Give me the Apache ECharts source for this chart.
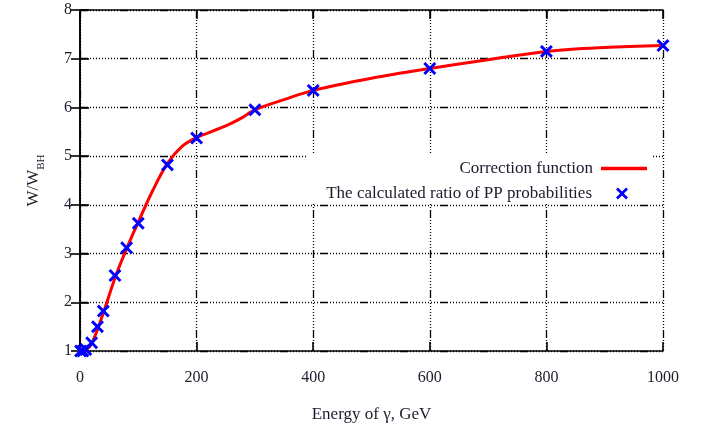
<!DOCTYPE html>
<html>
<head>
<meta charset="utf-8">
<script src="https://cdn.jsdelivr.net/npm/echarts@6/dist/echarts.min.js"></script>
<style>
  html, body { margin: 0; padding: 0; background: #fff; }
  #chart { width: 702px; height: 428px; }
</style>
</head>
<body>
<div id="chart"></div>
<script>
// Photon energies (GeV) where the PP probability ratio was calculated
const energy = [1, 5, 10, 20, 30, 40, 60, 80, 100, 150, 200, 300, 400, 600, 800, 1000];
// Calculated ratio W/W_BH at those energies
const ratio = [1.0, 1.0, 1.03, 1.17, 1.5, 1.82, 2.55, 3.12, 3.62, 4.82, 5.37, 5.95, 6.35, 6.8, 7.15, 7.27];

// Correction function sampled along the energy range
const fitEnergy = [0, 10, 20, 40, 60, 80, 100, 125, 150, 175, 200, 250, 275, 300, 350, 400, 500, 600, 700, 800, 900, 1000];
const fitRatio = [1.0, 1.02, 1.15, 1.78, 2.5, 3.1, 3.65, 4.3, 4.85, 5.2, 5.38, 5.62, 5.77, 5.95, 6.16, 6.35, 6.6, 6.8, 6.98, 7.15, 7.23, 7.27];

const xTicks = { min: 0, max: 1000, step: 200 };
const yTicks = { min: 1, max: 8, step: 1 };

const seriesNames = ['Correction function', 'The calculated ratio of PP probabilities'];

const serif = '"Liberation Serif", "DejaVu Serif", serif';
const textColor = '#1c1c2c';
const crossPath = 'path://M0,1.6 L1.6,0 L5,3.4 L8.4,0 L10,1.6 L6.6,5 L10,8.4 L8.4,10 L5,6.6 L1.6,10 L0,8.4 L3.4,5 Z';

const gridDash = [8, 2, 1, 2, 1, 2, 1, 2, 1, 2, 1, 2, 1, 2, 1, 2, 1, 2, 1, 2, 1, 2];

const chart = echarts.init(document.getElementById('chart'), null, { renderer: 'canvas' });

const frameAxis = (extra) => Object.assign({
  type: 'value',
  axisLine: { show: true, lineStyle: { color: '#000', width: 1.6 } },
  axisTick: { show: true, inside: true, length: 9, lineStyle: { color: '#000', width: 1.6 } },
  splitLine: { show: false }
}, extra);

const plainNumber = (v) => String(v);

chart.setOption({
  animation: false,
  backgroundColor: '#fff',
  grid: { left: 80, right: 39, top: 10, bottom: 77 },
  xAxis: [
    frameAxis({
      position: 'bottom',
      min: xTicks.min, max: xTicks.max, interval: xTicks.step,
      name: 'Energy of \u03b3, GeV',
      nameLocation: 'middle',
      nameGap: 55,
      nameTextStyle: { fontFamily: serif, fontSize: 17, color: textColor },
      axisLabel: { margin: 19, fontFamily: serif, fontSize: 16, color: textColor, formatter: plainNumber },
      splitLine: { show: true, lineStyle: { color: '#000', width: 1.3, type: gridDash } }
    }),
    frameAxis({
      position: 'top',
      min: xTicks.min, max: xTicks.max, interval: xTicks.step,
      axisLabel: { show: false }
    })
  ],
  yAxis: [
    frameAxis({
      position: 'left',
      min: yTicks.min, max: yTicks.max, interval: yTicks.step,
      name: '{a|W/W}{b|BH}',
      nameLocation: 'middle',
      nameGap: 33,
      nameRotate: 90,
      nameTextStyle: {
        fontFamily: serif, color: textColor,
        rich: {
          a: { fontFamily: serif, fontSize: 17, color: textColor, verticalAlign: 'top', lineHeight: 17 },
          b: { fontFamily: serif, fontSize: 11, color: textColor, verticalAlign: 'bottom', lineHeight: 22 }
        }
      },
      axisLabel: { margin: 8, fontFamily: serif, fontSize: 16, color: textColor, formatter: plainNumber },
      splitLine: { show: true, lineStyle: { color: '#000', width: 1.3, type: gridDash } }
    }),
    frameAxis({
      position: 'right',
      min: yTicks.min, max: yTicks.max, interval: yTicks.step,
      axisLabel: { show: false }
    })
  ],
  // opaque key box clearing the grid behind the legend
  graphic: [{
    type: 'rect',
    z: 1,
    shape: { x: 308, y: 154, width: 345, height: 49 },
    style: { fill: '#fff' },
    silent: true
  }],
  legend: [
    {
      data: [{ name: seriesNames[0], icon: 'rect' }],
      right: 55, top: 160,
      align: 'right',
      itemWidth: 46, itemHeight: 3.5, itemGap: 0,
      padding: 0,
      textStyle: { fontFamily: serif, fontSize: 17, color: textColor, padding: [0, 3, 0, 0] }
    },
    {
      data: [{ name: seriesNames[1], icon: crossPath }],
      right: 74, top: 185,
      align: 'right',
      itemWidth: 12, itemHeight: 12, itemGap: 0,
      padding: 0,
      textStyle: { fontFamily: serif, fontSize: 17, color: textColor, padding: [0, 19, 0, 0] }
    }
  ],
  series: [
    {
      name: seriesNames[0],
      type: 'line',
      data: fitEnergy.map((e, i) => [e, fitRatio[i]]),
      smooth: 0.35,
      showSymbol: false,
      clip: true,
      z: 2,
      lineStyle: { color: '#ff0000', width: 3 },
      itemStyle: { color: '#ff0000' }
    },
    {
      name: seriesNames[1],
      type: 'scatter',
      data: energy.map((e, i) => [e, ratio[i]]),
      symbol: crossPath,
      symbolSize: 13,
      clip: false,
      z: 3,
      itemStyle: { color: '#0000ff', opacity: 1 }
    }
  ]
});
</script>
</body>
</html>
